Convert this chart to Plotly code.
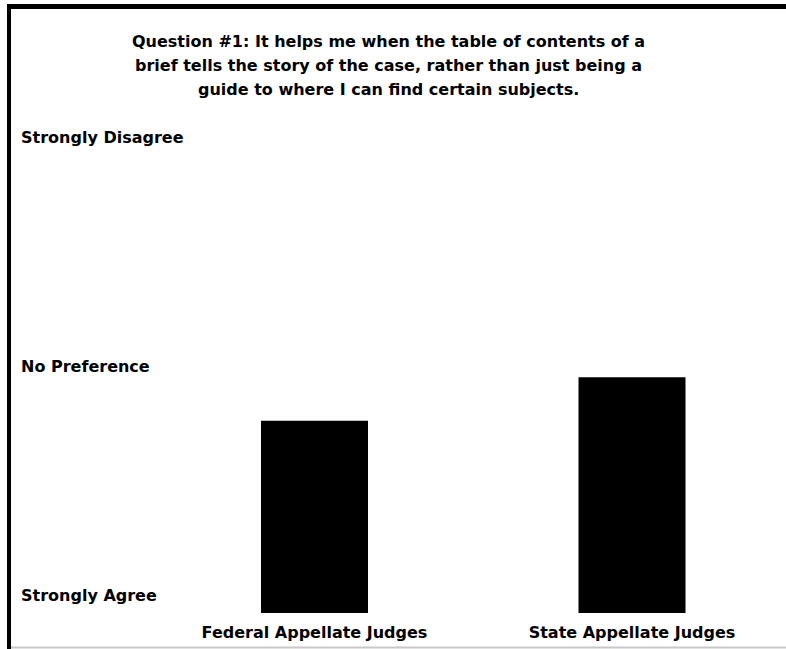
import plotly.graph_objects as go

# Data
groups = ["Federal Appellate Judges", "State Appellate Judges"]
mean_scores = [2.68, 3.06]          # 1 = Strongly Agree, 3 = No Preference, 5 = Strongly Disagree
scale_values = [1, 3, 5]
scale_labels = ["Strongly Agree", "No Preference", "Strongly Disagree"]
title_lines = [
    "Question #1: It helps me when the table of contents of a",
    "brief tells the story of the case, rather than just being a",
    "guide to where I can find certain subjects.",
]

W, H = 786, 649
ML, MR, MT, MB = 11, 0, 130, 36
PW, PH = W - ML - MR, H - MT - MB
FONT = "DejaVu Sans"

base = 1
x_pos = list(range(len(groups)))

fig = go.Figure()
fig.add_trace(go.Bar(
    x=x_pos,
    y=[v - base for v in mean_scores],
    base=base,
    width=0.337,
    marker=dict(color="black", line=dict(width=0)),
    hoverinfo="skip",
))

def px_x(p):
    return (p - ML) / PW

def px_y(p):
    return (H - MB - p) / PH

shapes = [
    # left border
    dict(type="line", xref="paper", yref="paper", x0=px_x(9), x1=px_x(9),
         y0=px_y(4), y1=px_y(652), line=dict(color="black", width=4)),
    # top border
    dict(type="line", xref="paper", yref="paper", x0=px_x(7), x1=px_x(790),
         y0=px_y(6.5), y1=px_y(6.5), line=dict(color="black", width=5)),
    # bottom thin gray
    dict(type="line", xref="paper", yref="paper", x0=px_x(11), x1=px_x(790),
         y0=px_y(647.5), y1=px_y(647.5), line=dict(color="#c8c8c8", width=2)),
]

annotations = []
for v, lab in zip(scale_values, scale_labels):
    annotations.append(dict(
        x=px_x(19), xref="paper", y=v, yref="y", text=lab, showarrow=False,
        xanchor="left", yanchor="middle", yshift=18,
        font=dict(family=FONT, size=16, color="black", weight="bold"),
    ))
for line, cy in zip(title_lines, [42, 65.5, 89]):
    annotations.append(dict(
        x=px_x(388), xref="paper", y=px_y(cy), yref="paper", text=line,
        showarrow=False, xanchor="center", yanchor="middle",
        font=dict(family=FONT, size=16, color="black", weight="bold"),
    ))

fig.update_layout(
    width=W, height=H,
    margin=dict(l=ML, r=MR, t=MT, b=MB),
    paper_bgcolor="white", plot_bgcolor="white",
    showlegend=False,
    xaxis=dict(range=[-(314.5 - ML) / 317.5, 1 + (W - 632) / 317.5],
               tickvals=x_pos, ticktext=groups, showgrid=False, zeroline=False,
               showline=False, ticks="", ticklabelstandoff=8,
               tickfont=dict(family=FONT, size=16, color="black", weight="bold")),
    yaxis=dict(range=[1, 1 + (613 - MT) / 114.5], showticklabels=False,
               showgrid=False, zeroline=False, showline=False, ticks=""),
    shapes=shapes,
    annotations=annotations,
)

fig.write_html("out.html", config={"displayModeBar": False},
               post_script="document.body.style.margin='0';")
